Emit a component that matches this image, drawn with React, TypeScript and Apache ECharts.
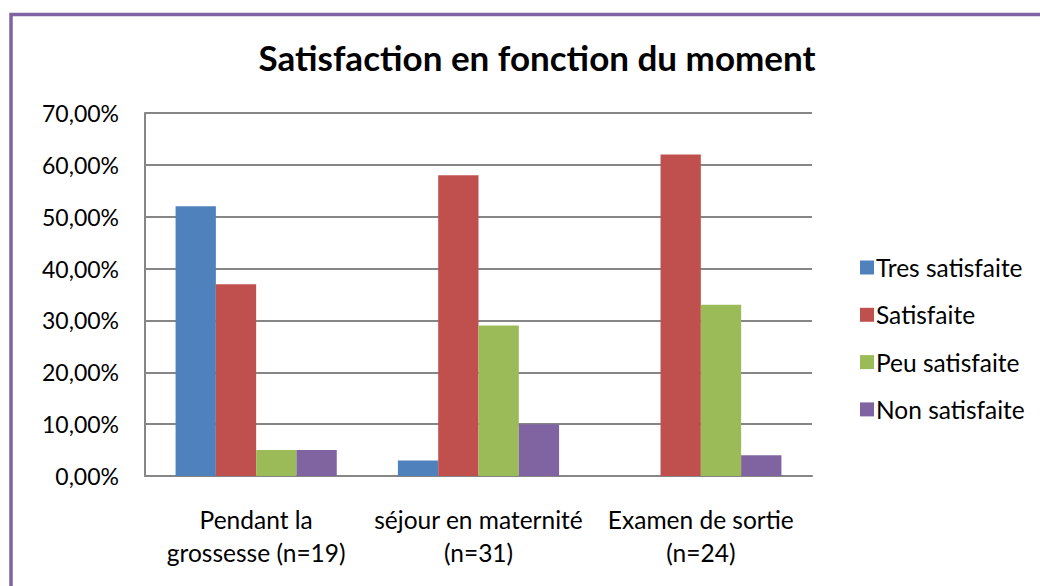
import React, { useEffect, useRef } from "react";
import * as echarts from "echarts";

const categories = ["Pendant la\ngrossesse (n=19)", "séjour en maternité\n(n=31)", "Examen de sortie\n(n=24)"];
const seriesNames = ["Tres satisfaite", "Satisfaite", "Peu satisfaite", "Non satisfaite"];
const tresSatisfaite = [52, 3, 0];
const satisfaite = [37, 58, 62];
const peuSatisfaite = [5, 29, 33];
const nonSatisfaite = [5, 10, 4];
const colors = ["#4F81BD", "#C0504D", "#9BBB59", "#8064A2"];

const FONT = "Lato, 'Open Sans', sans-serif";

export default function App() {
  const ref = useRef<HTMLDivElement>(null);
  useEffect(() => {
    if (!ref.current) return;
    const chart = echarts.init(ref.current, undefined, { renderer: "svg" });
    const values = [tresSatisfaite, satisfaite, peuSatisfaite, nonSatisfaite];
    chart.setOption({
      animation: false,
      backgroundColor: "#ffffff",
      textStyle: { fontFamily: FONT },
      title: {
        text: "Satisfaction en fonction du moment",
        left: 532,
        textAlign: "center",
        top: 34,
        textStyle: { fontFamily: FONT, fontSize: 35, fontWeight: "bold", color: "#000" },
      },
      graphic: [
        {
          type: "rect",
          shape: { x: 11, y: 14.5, width: 1100, height: 700 },
          style: { fill: "none", stroke: "#8064A2", lineWidth: 3.5 },
          silent: true,
        },
      ],
      legend: {
        orient: "vertical",
        left: 855,
        top: 250,
        itemWidth: 14,
        itemHeight: 14,
        itemGap: 22.3,
        icon: "rect",
        data: seriesNames,
        textStyle: { fontFamily: FONT, fontSize: 24.5, color: "#000", padding: [0, 0, 0, -3] },
      },
      grid: { left: 145, top: 113, width: 667, height: 363, containLabel: false },
      xAxis: {
        type: "category",
        data: categories,
        axisLine: { lineStyle: { color: "#868686", width: 2 } },
        axisTick: { show: false },
        axisLabel: {
          interval: 0,
          margin: 27,
          fontFamily: FONT,
          fontSize: 24.5,
          lineHeight: 33,
          color: "#000",
          align: "center",
        },
      },
      yAxis: {
        type: "value",
        min: 0,
        max: 70,
        interval: 10,
        axisLine: { show: true, lineStyle: { color: "#868686", width: 2 } },
        axisTick: { show: false },
        splitLine: { lineStyle: { color: "#868686", width: 2 } },
        axisLabel: {
          margin: 26,
          fontFamily: FONT,
          fontSize: 23,
          color: "#000",
          formatter: (v: number) => v.toFixed(2).replace(".", ",") + "%",
        },
      },
      series: seriesNames.map((name, i) => ({
        name,
        type: "bar",
        data: values[i],
        barGap: "0%",
        barCategoryGap: "27.5%",
        itemStyle: { color: colors[i] },
      })),
    });
    return () => chart.dispose();
  }, []);
  return (
    <div
      ref={ref}
      style={{ position: "fixed", left: 0, top: 0, width: 1040, height: 586, background: "#fff" }}
    />
  );
}
